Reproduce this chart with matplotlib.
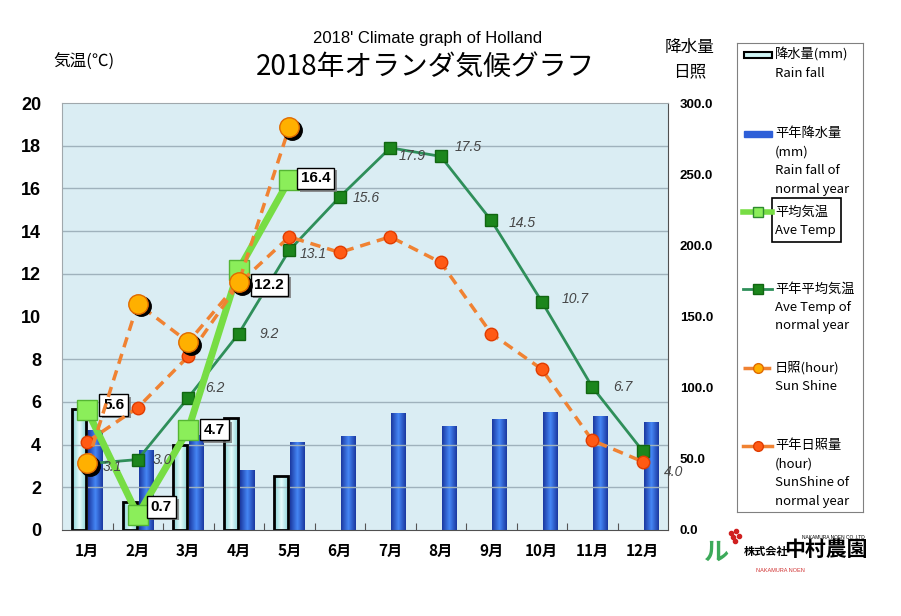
import numpy as np
import matplotlib.pyplot as plt
import matplotlib.patheffects as pe
from matplotlib.lines import Line2D
from matplotlib.patches import Rectangle
from matplotlib.ticker import MultipleLocator
from matplotlib.colors import LinearSegmentedColormap
from matplotlib.transforms import offset_copy

plt.rcParams['font.family'] = ['Liberation Sans', 'Noto Sans CJK JP', 'DejaVu Sans']

months = [f'{i}月' for i in range(1, 13)]
rain_2018 = [85, 20, 60, 79, 38]
rain_normal = [70, 56, 67, 42, 62, 66, 82, 73, 78, 83, 80, 76]
temp_2018 = [5.6, 0.7, 4.7, 12.2, 16.4]
temp_normal = [3.1, 3.3, 6.2, 9.2, 13.1, 15.6, 17.9, 17.5, 14.5, 10.7, 6.7, 3.7]
temp_normal_text = ['3.1', '3.0', '6.2', '9.2', '13.1', '15.6', '17.9', '17.5', '14.5', '10.7', '6.7', '4.0']
sun_2018 = [47, 159, 132, 174, 283]
sun_normal = [62, 86, 122, 173, 206, 195, 206, 188, 138, 113, 63, 48]

# label offsets (points) for the data labels
box_off = [(19, 4), (17, 6), (19, 0), (22, -11), (19, 1)]
norm_off = [(18, -2), (18, 0), (19, 7), (22, 0), (17, -3), (19, -1),
            (16, -6), (20, 7), (22, -2), (24, 2), (22, 0), (22, -15)]

W, H = 901, 616
fig = plt.figure(figsize=(W / 100, H / 100), dpi=100)

def px(x0, y0, x1, y1):
    return [x0 / W, 1 - y1 / H, (x1 - x0) / W, (y1 - y0) / H]

ax_r = fig.add_axes(px(62, 103, 668, 530))   # rain / hours, bottom layer
ax = ax_r.twinx()                             # temperature
ax_s = ax_r.twinx()                           # sunshine on top
ax_r.set_zorder(0)
ax.set_zorder(1)
ax_s.set_zorder(2)
ax.patch.set_visible(False)
ax_s.patch.set_visible(False)
ax_r.set_facecolor('#DAEDF3')

x = np.arange(12)

# ---- rain bars
cyan_cm = LinearSegmentedColormap.from_list('c', ['#E4FAFA', '#86D2D6'])
blue_cm = LinearSegmentedColormap.from_list('b', ['#4585F4', '#1A38A0'])
grad = np.atleast_2d(np.abs(np.linspace(-1, 1, 64)))

def shade(bars, cmap):
    for b in bars:
        x0, y0 = b.get_x(), b.get_y()
        im = ax_r.imshow(grad, extent=[x0, x0 + b.get_width(), y0, y0 + b.get_height()],
                         aspect='auto', cmap=cmap, zorder=1.5)
        im.set_clip_path(b)

bw = 0.28
b1 = ax_r.bar(x[:5] - 0.16, rain_2018, bw, color='#BFEFF0', zorder=1)
shade(b1, cyan_cm)
ax_r.bar(x[:5] - 0.16, rain_2018, bw, facecolor='none', edgecolor='black', lw=2, zorder=1.8)
b2 = ax_r.bar(x + 0.16, rain_normal, bw, color='#2E5FD8', zorder=1)
shade(b2, blue_cm)

ax_r.set_xlim(-0.5, 11.5)
ax_r.set_ylim(0, 300)
ax_r.set_yticks(np.arange(0, 301, 50))
ax_r.set_yticklabels([f'{v:.1f}' for v in np.arange(0, 301, 50)], fontsize=9.5, fontweight='bold')
ax_r.yaxis.set_minor_locator(MultipleLocator(30))
ax_r.grid(which='minor', axis='y', color='#9FB2BC', lw=1)
ax_r.tick_params(axis='y', which='both', length=0, pad=8.5, left=False, labelleft=False,
                 right=True, labelright=True)
ax_r.set_xticks(np.arange(0.5, 11.5, 1))
ax_r.set_xticklabels([])
ax_r.set_xticks(x, minor=True)
ax_r.set_xticklabels(months, minor=True, fontsize=11, fontweight='bold',
                     family=['Noto Sans CJK JP'])
ax_r.tick_params(axis='x', which='major', direction='in', length=5, color='#555555')
ax_r.tick_params(axis='x', which='minor', length=0, pad=9)
for s in ['left', 'top']:
    ax_r.spines[s].set_color('#A0A8AC')
for s in ['right', 'bottom']:
    ax_r.spines[s].set_color('#505050')

# ---- temperature
ax.set_ylim(0, 20)
ax.set_yticks(range(0, 21, 2))
ax.set_yticklabels(range(0, 21, 2), fontsize=13, fontweight='bold')
ax.tick_params(axis='y', length=0, pad=15, left=True, labelleft=True, right=False, labelright=False)
for s in ax.spines.values():
    s.set_visible(False)

ax.plot(x, temp_normal, color='#2F8F5A', lw=2, marker='s', ms=9, mfc='#1C861C',
        mec='#116611', zorder=3)
ax.plot(x[:5], temp_2018, color='#77DD44', lw=5, marker='s', ms=15, mfc='#8BEE5A',
        mec='#55B533', mew=1, zorder=4)

for i, v in enumerate(temp_normal):
    ax.annotate(temp_normal_text[i], (x[i], v), xytext=norm_off[i], textcoords='offset points',
                ha='center', va='center', fontsize=10, style='italic', color='#454545', zorder=5)

for i, v in enumerate(temp_2018):
    t = ax.annotate(f'{v:.1f}', (x[i], v), xytext=box_off[i], textcoords='offset points',
                    ha='center', va='center', fontsize=11, fontweight='bold', color='black',
                    bbox=dict(boxstyle='square,pad=0.25', fc='white', ec='black', lw=1), zorder=6)
    t.get_bbox_patch().set_path_effects([pe.SimplePatchShadow(offset=(2, -2), shadow_rgbFace='#777777', alpha=0.8),
                                         pe.Normal()])

# ---- sunshine
ax_s.set_ylim(0, 300)
ax_s.axis('off')
ax_s.plot(x, sun_normal, color='#F08232', lw=2.5, dashes=(3, 2), marker='o', ms=9,
          mfc='#FF5A14', mec='#E03C00', zorder=3)
ax_s.plot(x[:5], sun_2018, color='#F08232', lw=2.5, dashes=(3, 2), zorder=3)
shadow = offset_copy(ax_s.transData, fig=fig, x=2, y=-2, units='points')
ax_s.plot(x[:5], sun_2018, ls='none', marker='o', ms=14, mfc='black', mec='black',
          transform=shadow, zorder=4)
ax_s.plot(x[:5], sun_2018, ls='none', marker='o', ms=14, mfc='#FFB000', mec='#E06A00',
          zorder=5)

# ---- titles
fig.text(428 / W, 1 - 38 / H, "2018' Climate graph of Holland", ha='center', va='center',
         fontsize=12)
fig.text(425 / W, 1 - 67 / H, '2018年オランダ気候グラフ', ha='center', va='center',
         fontsize=20, family=['Noto Sans CJK JP'])
fig.text(84 / W, 1 - 62 / H, '気温(℃)', ha='center', va='center', fontsize=12,
         family=['Noto Sans CJK JP', 'DejaVu Sans'])
fig.text(690 / W, 1 - 47 / H, '降水量', ha='center', va='center', fontsize=12,
         family=['Noto Sans CJK JP'])
fig.text(690 / W, 1 - 72 / H, '日照', ha='center', va='center', fontsize=12,
         family=['Noto Sans CJK JP'])

# ---- legend
lg = fig.add_axes(px(737, 43, 863, 512))
lg.set_xlim(737, 863)
lg.set_ylim(512, 43)
lg.set_xticks([])
lg.set_yticks([])
for s in lg.spines.values():
    s.set_color('#808080')

entries = [
    (55, ['降水量(mm)', 'Rain fall']),
    (134, ['平年降水量', '(mm)', 'Rain fall of', 'normal year']),
    (212, ['平均気温', 'Ave Temp']),
    (289, ['平年平均気温', 'Ave Temp of', 'normal year']),
    (368, ['日照(hour)', 'Sun Shine']),
    (446, ['平年日照量', '(hour)', 'SunShine of', 'normal year']),
]
for y0, lines in entries:
    for k, t in enumerate(lines):
        lg.text(775, y0 + k * 18.5, t, ha='left', va='center', fontsize=9.5,
                family=['Noto Sans CJK JP'])

lg.add_patch(Rectangle((744, 52), 28, 6, fc='#CFF4F4', ec='black', lw=1.5))
lg.add_patch(Rectangle((744, 131), 28, 6, fc='#2E5FD8', ec='#2E5FD8'))
lg.add_patch(Rectangle((772, 198), 69, 44, fc='none', ec='black', lw=1.2))
lg.add_line(Line2D([743, 757.5, 772], [212, 212, 212], color='#77DD44', lw=4, marker='s', ms=7,
                   markevery=[1], mfc='#8BEE5A', mec='#2E8B2E'))
lg.add_line(Line2D([743, 757.5, 772], [289, 289, 289], color='#2F8F5A', lw=2, marker='s',
                   ms=7, markevery=[1], mfc='#1C861C', mec='#116611'))
lg.add_line(Line2D([743, 757.5, 772], [368, 368, 368], color='#F08232', lw=2.5,
                   dashes=(3, 2), marker='o', ms=7, markevery=[1], mfc='#FFB000', mec='#E06A00'))
lg.add_line(Line2D([743, 757.5, 772], [446, 446, 446], color='#F08232', lw=2.5, marker='o',
                   ms=7, markevery=[1], mfc='#FF5A14', mec='#E03C00'))

# ---- company mark
fig.text(833 / W, 1 - 537 / H, 'NAKAMURA NOEN CO.,LTD', ha='center', va='center', fontsize=3.5)
fig.text(766 / W, 1 - 552 / H, '株式会社', ha='center', va='center', fontsize=8,
         fontweight='bold', family=['Noto Sans CJK JP'])
fig.text(826 / W, 1 - 549 / H, '中村農園', ha='center', va='center', fontsize=15,
         fontweight='bold', family=['Noto Sans CJK JP'])
fig.text(780 / W, 1 - 571 / H, 'NAKAMURA NOEN', ha='center', va='center', fontsize=4,
         color='#D03030')
fig.text(716 / W, 1 - 553 / H, 'ル', ha='center', va='center', fontsize=18,
         color='#3DAA5A', fontweight='bold', family=['Noto Sans CJK JP'])
fig.add_artist(Line2D([731 / W, 736 / W, 733 / W, 739 / W, 735 / W],
                      [1 - 533 / H, 1 - 531 / H, 1 - 537 / H, 1 - 536 / H, 1 - 541 / H],
                      ls='none', marker='o', ms=3, mfc='#D02020', mec='#D02020'))

fig.savefig('out.png', dpi=100)
